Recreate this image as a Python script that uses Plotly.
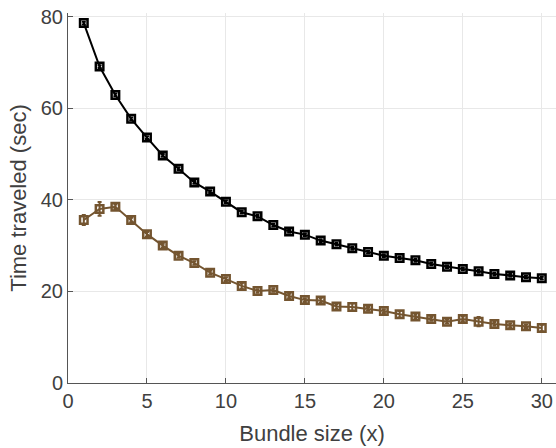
import plotly.graph_objects as go

# Bundle sizes and mean travel times (sec) with standard errors
bundle_size = list(range(1, 31))

time_black = [78.6, 69.1, 62.9, 57.7, 53.6, 49.7, 46.8, 43.8, 41.8, 39.6,
              37.3, 36.4, 34.5, 33.1, 32.4, 31.1, 30.3, 29.4, 28.6, 27.8,
              27.3, 26.8, 26.0, 25.4, 24.9, 24.4, 23.8, 23.5, 23.1, 22.9]
err_black = [0.3] * 30

time_brown = [35.6, 38.0, 38.5, 35.6, 32.5, 30.0, 27.8, 26.2, 24.1, 22.7,
              21.2, 20.1, 20.3, 19.0, 18.1, 18.0, 16.7, 16.6, 16.2, 15.7,
              15.0, 14.5, 14.0, 13.4, 14.0, 13.4, 12.9, 12.6, 12.4, 12.0]
err_brown = [1.1, 1.5, 0.5, 0.5, 0.5, 0.4, 0.4, 0.4, 0.4, 0.4,
             0.6, 0.4, 0.4, 0.5, 0.4, 0.5, 0.5, 0.8, 0.4, 0.4,
             0.7, 0.4, 0.4, 0.4, 0.5, 1.0, 0.4, 0.4, 0.4, 0.7]

x_ticks = [0, 5, 10, 15, 20, 25, 30]
y_ticks = [0, 20, 40, 60, 80]

BROWN = "#745530"
BLACK = "#000000"
FONT = "Liberation Sans, Arial, sans-serif"
TEXT = "#404040"

fig = go.Figure()

for y, e, c in [(time_black, err_black, BLACK), (time_brown, err_brown, BROWN)]:
    fig.add_trace(go.Scatter(
        x=bundle_size, y=y,
        mode="lines+markers",
        line=dict(color=c, width=2),
        marker=dict(symbol="square-open", size=7.5, color=c, line=dict(width=2.5, color=c)),
        error_y=dict(type="data", array=e, visible=True, color=c, thickness=2, width=2),
        showlegend=False,
    ))

axis_common = dict(
    showline=True, linecolor="#555555", linewidth=1,
    ticks="inside", ticklen=5, tickcolor="#555555",
    showgrid=True, gridcolor="#e8e8e8", gridwidth=1,
    zeroline=False, mirror=False,
    tickfont=dict(family=FONT, size=20, color=TEXT),
)

fig.update_layout(
    width=556, height=448,
    margin=dict(l=68, r=0, t=13, b=65),
    plot_bgcolor="white", paper_bgcolor="white",
    xaxis=dict(range=[0, 30.9], tickvals=x_ticks,
               title=dict(text="Bundle size (x)", standoff=14,
                          font=dict(family=FONT, size=22, color=TEXT)),
               **axis_common),
    yaxis=dict(range=[0, 80.8], tickvals=y_ticks,
               title=dict(text="Time traveled (sec)", standoff=8,
                          font=dict(family=FONT, size=22, color=TEXT)),
               **axis_common),
)

fig.write_html("out.html")
